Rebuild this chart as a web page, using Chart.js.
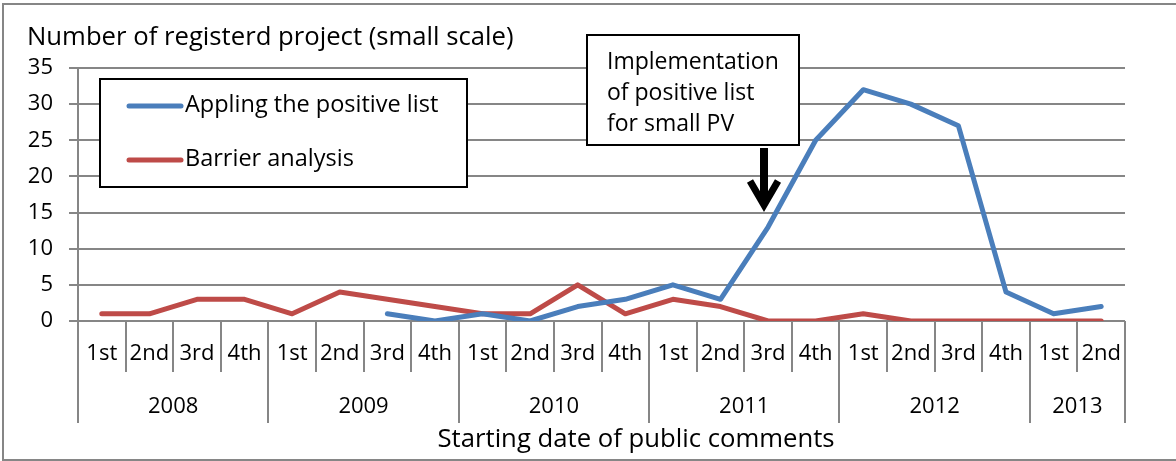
<!DOCTYPE html>
<html>
<head>
<meta charset="utf-8">
<script src="https://cdn.jsdelivr.net/npm/chart.js@4"></script>
<style>
  body { margin: 0; background: #fff; }
  #wrap { width: 1176px; height: 461px; }
</style>
</head>
<body>
<div id="wrap"><canvas id="chart" width="1176" height="461"></canvas></div>
<script>
const quarters = ['1st', '2nd', '3rd', '4th', '1st', '2nd', '3rd', '4th', '1st', '2nd', '3rd', '4th',
                  '1st', '2nd', '3rd', '4th', '1st', '2nd', '3rd', '4th', '1st', '2nd'];
const years = ['2008', '2009', '2010', '2011', '2012', '2013'];
const quartersPerYear = [4, 4, 4, 4, 4, 2];
const positiveList = [null, null, null, null, null, null, 1, 0, 1, 0, 2, 3,
                      5, 3, 13, 25, 32, 30, 27, 4, 1, 2];
const barrierAnalysis = [1, 1, 3, 3, 1, 4, 3, 2, 1, 1, 5, 1,
                         3, 2, 0, 0, 1, 0, 0, 0, 0, 0];
const yTicks = [0, 5, 10, 15, 20, 25, 30, 35];

const FONT = "'Open Sans', Lato, sans-serif";
const GRID = '#868686';

// x-axis groups, legend, note box, arrow and frame
const decorations = {
  id: 'decorations',
  afterDraw(chart) {
    const ctx = chart.ctx;
    const x = chart.scales.x;
    const area = chart.chartArea;
    const step = x.getPixelForValue(1) - x.getPixelForValue(0);
    ctx.save();

    // category separators
    ctx.strokeStyle = GRID;
    ctx.lineWidth = 2;
    let yearStarts = [0];
    quartersPerYear.reduce((acc, n) => { yearStarts.push(acc + n); return acc + n; }, 0);
    for (let i = 0; i <= quarters.length; i++) {
      const px = Math.round(x.getPixelForValue(i) - step / 2);
      const isYear = yearStarts.includes(i);
      ctx.beginPath();
      ctx.moveTo(px, area.bottom);
      ctx.lineTo(px, area.bottom + (isYear ? 102 : 51));
      ctx.stroke();
    }

    // quarter labels
    ctx.fillStyle = '#000';
    ctx.font = '22px ' + FONT;
    ctx.textAlign = 'center';
    ctx.textBaseline = 'middle';
    quarters.forEach((q, i) => ctx.fillText(q, x.getPixelForValue(i), 354));

    // year labels
    years.forEach((yr, k) => {
      const a = yearStarts[k], b = yearStarts[k + 1] - 1;
      ctx.fillText(yr, (x.getPixelForValue(a) + x.getPixelForValue(b)) / 2, 407);
    });

    // axis titles
    ctx.font = '25.7px ' + FONT;
    ctx.fillText('Starting date of public comments', 636, 440);
    ctx.textAlign = 'left';
    ctx.fillText('Number of registerd project (small scale)', 27, 38);

    // legend
    ctx.fillStyle = '#fff';
    ctx.fillRect(100, 79, 367, 108);
    ctx.strokeStyle = '#000';
    ctx.lineWidth = 2;
    ctx.strokeRect(100, 79, 367, 108);
    ctx.lineCap = 'round';
    ctx.lineWidth = 5;
    chart.data.datasets.forEach((ds, i) => {
      const ly = 106 + i * 54;
      ctx.strokeStyle = ds.borderColor;
      ctx.beginPath();
      ctx.moveTo(129, ly);
      ctx.lineTo(181, ly);
      ctx.stroke();
      ctx.fillStyle = '#000';
      ctx.font = '23.5px ' + FONT;
      ctx.fillText(ds.label, 185, ly - 1);
    });

    // note box
    ctx.fillStyle = '#fff';
    ctx.fillRect(587, 35, 212, 110);
    ctx.strokeStyle = '#000';
    ctx.lineWidth = 2;
    ctx.strokeRect(587, 35, 212, 110);
    ctx.fillStyle = '#000';
    ctx.font = '23px ' + FONT;
    ['Implementation', 'of positive list', 'for small PV'].forEach((t, i) => {
      ctx.fillText(t, 607, 62 + i * 31);
    });

    // arrow
    ctx.strokeStyle = '#000';
    ctx.lineCap = 'butt';
    ctx.lineWidth = 8;
    ctx.beginPath();
    ctx.moveTo(764, 148);
    ctx.lineTo(764, 204);
    ctx.stroke();
    ctx.lineWidth = 7;
    ctx.lineJoin = 'miter';
    ctx.beginPath();
    ctx.moveTo(750, 181);
    ctx.lineTo(764, 205);
    ctx.lineTo(778, 181);
    ctx.stroke();

    // outer frame
    ctx.strokeStyle = GRID;
    ctx.lineWidth = 2;
    ctx.strokeRect(3, 4, 1185, 456);
    ctx.restore();
  }
};

new Chart(document.getElementById('chart'), {
  type: 'line',
  data: {
    labels: quarters,
    datasets: [
      { label: 'Appling the positive list', data: positiveList, borderColor: '#4A7EBB' },
      { label: 'Barrier analysis', data: barrierAnalysis, borderColor: '#BE4B48' }
    ]
  },
  options: {
    responsive: false,
    animation: false,
    devicePixelRatio: 1,
    layout: { padding: { left: 0, top: 68, right: 51, bottom: 0 } },
    elements: {
      line: { borderWidth: 5, tension: 0, borderCapStyle: 'round', borderJoinStyle: 'round' },
      point: { radius: 0 }
    },
    plugins: { legend: { display: false }, tooltip: { enabled: false } },
    scales: {
      x: {
        offset: true,
        grid: { display: false },
        border: { display: false },
        ticks: { display: false },
        afterFit: s => { s.height = 140; }
      },
      y: {
        min: 0,
        max: 35,
        afterBuildTicks: s => { s.ticks = yTicks.map(v => ({ value: v })); },
        grid: { color: GRID, lineWidth: 2, tickLength: 9 },
        border: { color: GRID, width: 2 },
        ticks: { color: '#000', padding: 16, font: { family: FONT, size: 22 } },
        afterFit: s => { s.width = 78; }
      }
    }
  },
  plugins: [decorations]
});
</script>
</body>
</html>
